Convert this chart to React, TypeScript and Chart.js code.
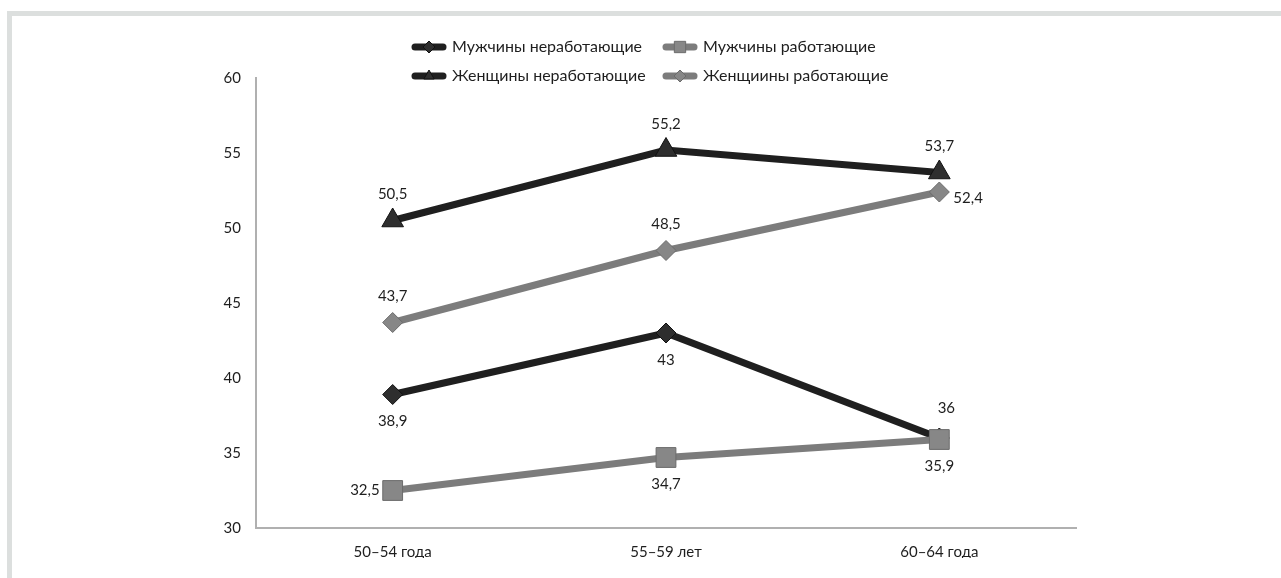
import React, { useEffect, useRef } from 'react';
import { Chart, registerables } from 'chart.js';

Chart.register(...registerables);

const categories = ['50–54 года', '55–59 лет', '60–64 года'];
const seriesNames = ['Мужчины неработающие', 'Мужчины работающие', 'Женщины неработающие', 'Женщиины работающие'];
const menNotWorking = [38.9, 43, 36];
const menWorking = [32.5, 34.7, 35.9];
const womenNotWorking = [50.5, 55.2, 53.7];
const womenWorking = [43.7, 48.5, 52.4];
const yMin = 30;
const yMax = 60;
const yStep = 5;

const FONT = 'Lato, "Open Sans", sans-serif';
const TEXT = '#1e1e1e';
const DARK_LINE = '#1f1f1f';
const DARK_POINT = '#2e2e2e';
const GRAY_LINE = '#7c7c7c';
const GRAY_POINT = '#878787';
const GRAY_POINT_BORDER = '#6b6b6b';

// style: where each value label sits relative to its point
const labelPlacement = [
  ['bottom', 'bottom', 'topRight'],
  ['left', 'bottom', 'bottom'],
  ['top', 'top', 'top'],
  ['top', 'top', 'right'],
];

const seriesStyle = [
  { line: DARK_LINE, fill: DARK_POINT, border: '#111111', shape: 'rectRot', radius: 10, order: 4 },
  { line: GRAY_LINE, fill: GRAY_POINT, border: GRAY_POINT_BORDER, shape: 'rect', radius: 14, order: 3 },
  { line: DARK_LINE, fill: DARK_POINT, border: '#111111', shape: 'triangle', radius: 12.5, order: 2 },
  { line: GRAY_LINE, fill: GRAY_POINT, border: GRAY_POINT_BORDER, shape: 'rectRot', radius: 10, order: 1 },
];

const fmt = (v: number) => String(v).replace('.', ',');

function drawMarker(ctx: CanvasRenderingContext2D, shape: string, x: number, y: number, r: number) {
  ctx.beginPath();
  if (shape === 'rect') {
    const s = r * Math.SQRT1_2;
    ctx.rect(x - s, y - s, 2 * s, 2 * s);
  } else if (shape === 'rectRot') {
    ctx.moveTo(x - r, y);
    ctx.lineTo(x, y - r);
    ctx.lineTo(x + r, y);
    ctx.lineTo(x, y + r);
    ctx.closePath();
  } else {
    const h = r * Math.sqrt(3) / 2;
    ctx.moveTo(x, y - r);
    ctx.lineTo(x + h, y + r / 2);
    ctx.lineTo(x - h, y + r / 2);
    ctx.closePath();
  }
  ctx.fill();
  ctx.stroke();
}

const valueLabels = {
  id: 'valueLabels',
  afterDatasetsDraw(chart: any) {
    const ctx: CanvasRenderingContext2D = chart.ctx;
    ctx.save();
    ctx.font = `15px ${FONT}`;
    ctx.fillStyle = TEXT;
    chart.data.datasets.forEach((ds: any, di: number) => {
      const meta = chart.getDatasetMeta(di);
      meta.data.forEach((pt: any, i: number) => {
        const txt = fmt(ds.data[i]);
        const pos = labelPlacement[di][i];
        let x = pt.x;
        let y = pt.y;
        ctx.textBaseline = 'middle';
        ctx.textAlign = 'center';
        if (pos === 'top') y -= 26;
        else if (pos === 'bottom') y += 27;
        else if (pos === 'topRight') { y -= 30; x += 7; }
        else if (pos === 'left') { ctx.textAlign = 'right'; x -= 13; }
        else if (pos === 'right') { ctx.textAlign = 'left'; x += 14; y += 6; }
        ctx.fillText(txt, x, y);
      });
    });
    ctx.restore();
  },
};

const customLegend = {
  id: 'customLegend',
  afterDraw(chart: any) {
    const ctx: CanvasRenderingContext2D = chart.ctx;
    const spots = [[412, 47], [663, 47], [412, 76], [663, 76]];
    ctx.save();
    chart.data.datasets.forEach((ds: any, di: number) => {
      const [x, y] = spots[di];
      const st = seriesStyle[di];
      ctx.strokeStyle = st.line;
      ctx.lineWidth = 7;
      ctx.lineCap = 'round';
      ctx.beginPath();
      ctx.moveTo(x + 3, y);
      ctx.lineTo(x + 31, y);
      ctx.stroke();
      ctx.lineCap = 'butt';
      ctx.fillStyle = st.fill;
      ctx.strokeStyle = st.border;
      ctx.lineWidth = 1;
      drawMarker(ctx, st.shape, x + 17, y, st.shape === 'rect' ? 8 : 6);
      ctx.font = `16px ${FONT}`;
      ctx.fillStyle = TEXT;
      ctx.textAlign = 'left';
      ctx.textBaseline = 'middle';
      ctx.fillText(ds.label, x + 40, y);
    });
    ctx.restore();
  },
};

export default function App() {
  const ref = useRef<HTMLCanvasElement | null>(null);

  useEffect(() => {
    if (!ref.current) return;
    const series = [menNotWorking, menWorking, womenNotWorking, womenWorking];
    const chart = new Chart(ref.current, {
      type: 'line',
      data: {
        labels: categories,
        datasets: series.map((d, i) => ({
          label: seriesNames[i],
          data: d,
          borderColor: seriesStyle[i].line,
          backgroundColor: seriesStyle[i].fill,
          pointBackgroundColor: seriesStyle[i].fill,
          pointBorderColor: seriesStyle[i].border,
          pointBorderWidth: 1,
          pointStyle: seriesStyle[i].shape as any,
          pointRadius: seriesStyle[i].radius,
          pointHoverRadius: seriesStyle[i].radius,
          borderWidth: 7,
          tension: 0,
          fill: false,
          order: seriesStyle[i].order,
        })),
      },
      options: {
        responsive: false,
        animation: false,
        devicePixelRatio: 1,
        layout: { padding: { left: 200, right: 205, top: 78, bottom: 20 } },
        plugins: {
          legend: { display: false },
          tooltip: { enabled: false },
        },
        scales: {
          x: {
            type: 'category',
            offset: true,
            grid: { display: false, drawTicks: false },
            border: { display: true, color: '#b0b0b0', width: 2 },
            ticks: { color: TEXT, font: { family: FONT, size: 15 }, padding: 15, maxRotation: 0 },
            afterFit: (s: any) => { s.height = 30; },
          },
          y: {
            min: yMin,
            max: yMax,
            grid: { display: false, drawTicks: false },
            border: { display: true, color: '#b0b0b0', width: 2 },
            ticks: { stepSize: yStep, color: TEXT, font: { family: FONT, size: 15 }, padding: 15 },
            afterFit: (s: any) => { s.width = 56; },
          },
        },
      },
      plugins: [valueLabels, customLegend],
    });
    return () => chart.destroy();
  }, []);

  return (
    <div style={{ position: 'fixed', left: 0, top: 0, width: 1281, height: 578, background: '#ffffff', overflow: 'hidden' }}>
      <div
        style={{
          position: 'absolute', left: 7, top: 11, width: 1281 - 7, height: 578 - 11,
          borderTop: '5px solid #dcdfde', borderLeft: '5px solid #dcdfde', boxSizing: 'border-box',
        }}
      />
      <canvas ref={ref} width={1281} height={578} style={{ position: 'absolute', left: 0, top: 0, display: 'block' }} />
    </div>
  );
}
